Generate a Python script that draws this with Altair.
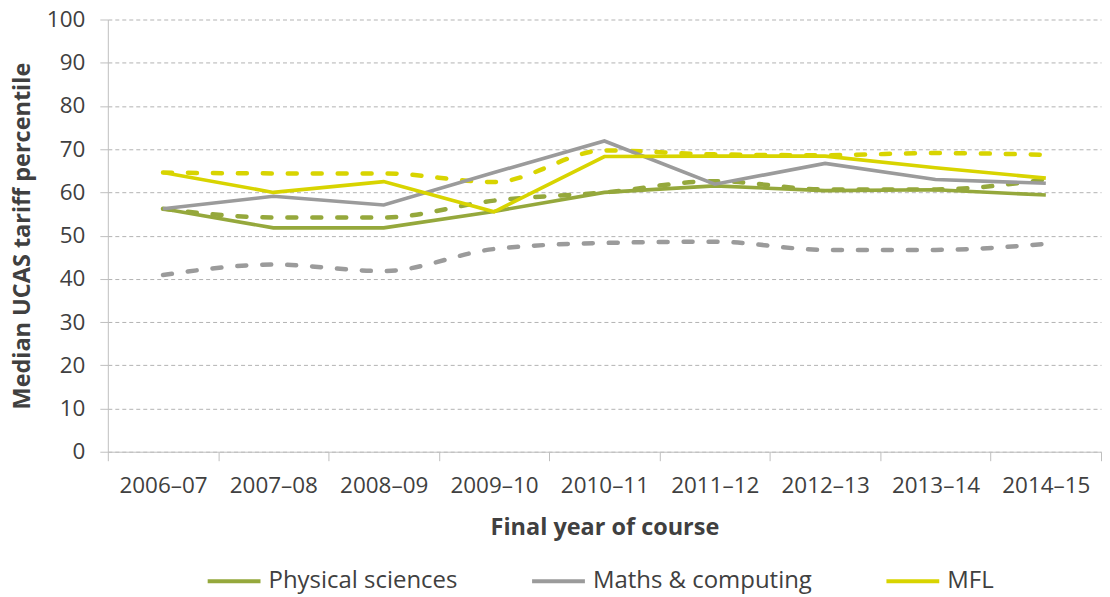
import altair as alt
import pandas as pd

years = ["2006–07", "2007–08", "2008–09", "2009–10", "2010–11",
         "2011–12", "2012–13", "2013–14", "2014–15"]
series_names = ["Physical sciences", "Maths & computing", "MFL"]
series_colors = ["#95a83c", "#9b9b9b", "#d8d400"]

phys_solid = [56.2, 51.8, 51.8, 55.6, 60.0, 61.5, 60.4, 60.6, 59.4]
phys_dashed = [56.2, 54.2, 54.2, 58.1, 60.0, 62.6, 60.7, 60.7, 63.0]
maths_solid = [56.2, 59.1, 57.1, 64.6, 71.9, 61.9, 66.7, 63.0, 62.1]
maths_dashed = [40.9, 43.3, 41.8, 46.9, 48.3, 48.6, 46.7, 46.7, 48.1]
mfl_solid = [64.6, 60.0, 62.5, 55.5, 68.3, 68.4, 68.4, 65.7, 63.3]
mfl_dashed = [64.6, 64.4, 64.4, 62.4, 69.7, 68.8, 68.6, 69.1, 68.7]

y_ticks = [0, 10, 20, 30, 40, 50, 60, 70, 80, 90, 100]

def long(values_list):
    rows = []
    for name, vals in zip(series_names, values_list):
        for yr, v in zip(years, vals):
            rows.append({"year": yr, "series": name, "value": v})
    return pd.DataFrame(rows)

df_solid = long([phys_solid, maths_solid, mfl_solid])
df_dashed = long([phys_dashed, maths_dashed, mfl_dashed])

FONT = "Open Sans"
TXT = "#404040"

x_enc = alt.X(
    "year:N", sort=years, bandPosition=0.5,
    scale=alt.Scale(type="band", paddingInner=0, paddingOuter=0),
    axis=alt.Axis(
        title="Final year of course", labelAngle=0, tickBand="extent",
        tickSize=9, labelPadding=14, titlePadding=18, grid=False,
        domainColor="#bfbfbf", tickColor="#bfbfbf",
    ),
)
y_enc = alt.Y(
    "value:Q", scale=alt.Scale(domain=[0, 100], nice=False),
    axis=alt.Axis(
        title="Median UCAS tariff percentile", values=y_ticks, tickSize=8,
        labelPadding=15, titlePadding=12, grid=True, gridDash=[4, 3],
        gridColor="#b3b3b3", domainColor="#bfbfbf", tickColor="#bfbfbf",
    ),
)
color_scale = alt.Scale(domain=series_names, range=series_colors)

dashed = alt.Chart(df_dashed).mark_line(
    strokeWidth=4.5, strokeDash=[9, 16], strokeCap="round", interpolate="monotone"
).encode(
    x=x_enc, y=y_enc,
    color=alt.Color("series:N", scale=color_scale, legend=None),
)

solid = alt.Chart(df_solid).mark_line(strokeWidth=3.6).encode(
    x=x_enc, y=y_enc,
    color=alt.Color(
        "series:N", scale=color_scale, sort=series_names,
        legend=alt.Legend(
            title=None, orient="none", direction="horizontal",
            legendX=98, legendY=534,
            symbolType="stroke", symbolSize=2800, symbolStrokeWidth=3.8,
            labelOffset=6, columnPadding=66, labelLimit=0,
        ),
    ),
)

chart = alt.layer(dashed, solid).resolve_legend(color="independent").properties(
    width=995, height=433,
    padding={"left": 2, "top": 0, "right": 0, "bottom": 0},
).configure_view(stroke=None).configure_axis(
    labelFont=FONT, titleFont=FONT, labelFontSize=22.5, titleFontSize=23.5,
    labelColor=TXT, titleColor=TXT, titleFontWeight="bold",
).configure_legend(
    labelFont=FONT, labelFontSize=24, labelColor=TXT,
)

chart.save("out.html", embed_options={"renderer": "svg", "actions": False})
